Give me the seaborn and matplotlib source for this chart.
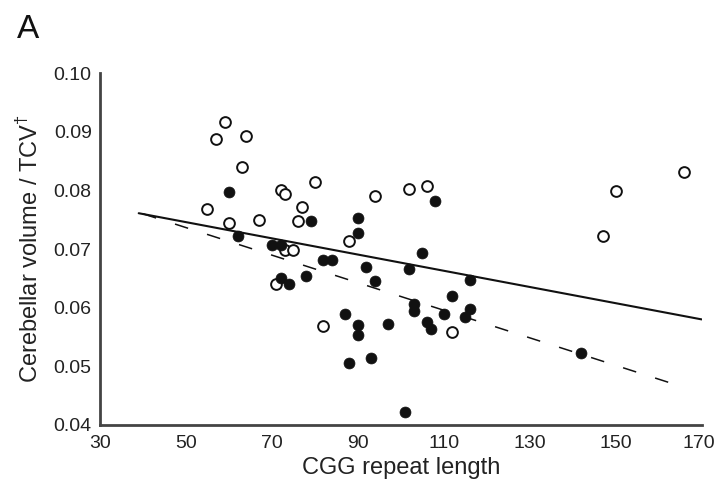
import matplotlib
matplotlib.use("Agg")
import matplotlib.pyplot as plt
import matplotlib.transforms as mtransforms
import seaborn as sns
import pandas as pd

# ---- data ----
filled_x = [60, 79, 90, 90, 62, 70, 72, 82, 84, 92, 94, 72, 74, 78, 108, 105, 102,
            116, 112, 103, 103, 116, 110, 115, 87, 97, 90, 90, 106, 107, 88, 93, 101, 142]
filled_y = [0.0798, 0.0747, 0.0752, 0.0727, 0.0722, 0.0707, 0.0707, 0.0682, 0.0682,
            0.0670, 0.0645, 0.0651, 0.0640, 0.0654, 0.0781, 0.0694, 0.0666, 0.0648,
            0.0620, 0.0606, 0.0595, 0.0598, 0.0589, 0.0584, 0.0590, 0.0572, 0.0570,
            0.0554, 0.0575, 0.0564, 0.0505, 0.0515, 0.0423, 0.0522]

open_x = [59, 57, 64, 63, 72, 73, 80, 94, 55, 77, 60, 67, 76, 88, 73, 75, 71, 82,
          102, 106, 112, 147, 150, 166]
open_y = [0.0916, 0.0887, 0.0893, 0.0840, 0.0801, 0.0793, 0.0815, 0.0790, 0.0768,
          0.0772, 0.0745, 0.0749, 0.0748, 0.0713, 0.0698, 0.0699, 0.0640, 0.0569,
          0.0803, 0.0808, 0.0558, 0.0723, 0.0799, 0.0831]

solid_x = [39, 170]
solid_y = [0.0761, 0.0580]
dashed_x = [40, 166]
dashed_y = [0.0760, 0.0464]

x_ticks = [30, 50, 70, 90, 110, 130, 150, 170]
y_ticks = [0.04, 0.05, 0.06, 0.07, 0.08, 0.09, 0.10]

sns.set_theme(style="white")
plt.rcParams['font.family'] = ['Liberation Sans', 'DejaVu Sans']
plt.rcParams['mathtext.fontset'] = 'custom'
plt.rcParams['mathtext.rm'] = 'Liberation Sans'

fig = plt.figure(figsize=(7.16, 4.88), dpi=100)
ax = fig.add_axes([0.1397, 0.1291, 0.8403, 0.7213])

df_f = pd.DataFrame({"x": filled_x, "y": filled_y})
df_o = pd.DataFrame({"x": open_x, "y": open_y})
df_s = pd.DataFrame({"x": solid_x, "y": solid_y})
df_d = pd.DataFrame({"x": dashed_x, "y": dashed_y})

sns.lineplot(data=df_s, x="x", y="y", ax=ax, color="#111111", lw=1.5, zorder=2)
sns.lineplot(data=df_d, x="x", y="y", ax=ax, color="#111111", lw=1.1, zorder=2)
ax.lines[-1].set_dashes((9, 13))

sns.scatterplot(data=df_o, x="x", y="y", ax=ax, s=60, facecolor="white",
                edgecolor="#111111", linewidth=1.4, zorder=3)
sns.scatterplot(data=df_f, x="x", y="y", ax=ax, s=62, color="#111111",
                edgecolor="#111111", linewidth=0.5, zorder=4)

ax.set_xlim(30, 170)
ax.set_ylim(0.04, 0.10)
ax.set_xticks(x_ticks)
ax.set_yticks(y_ticks)
ax.set_xticklabels([str(t) for t in x_ticks])
ax.set_yticklabels([f"{t:.2f}" for t in y_ticks])
ax.tick_params(axis="both", length=0, labelsize=14, colors="#222222")
ax.tick_params(axis="y", pad=6)
ax.tick_params(axis="x", pad=7)

# nudge the last x label slightly so it stays inside the canvas
last = ax.get_xticklabels()[-1]
last.set_transform(last.get_transform() +
                   mtransforms.ScaledTranslation(-2 / 72, 0, fig.dpi_scale_trans))

for side in ["top", "right"]:
    ax.spines[side].set_visible(False)
for side in ["left", "bottom"]:
    ax.spines[side].set_color("#444444")
    ax.spines[side].set_linewidth(2)

ax.set_xlabel("CGG repeat length", fontsize=17, color="#222222", labelpad=4)
ax.set_ylabel(r"Cerebellar volume / TCV$^{\dagger}$", fontsize=17, color="#222222", labelpad=8)

fig.text(0.0237, 0.922, "A", fontsize=24, color="#111111", ha="left", va="baseline")

fig.savefig("out.png", dpi=100)
